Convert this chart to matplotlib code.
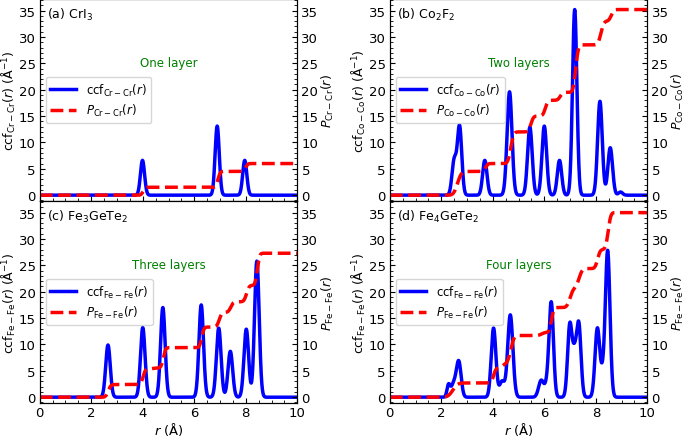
import math
import matplotlib
matplotlib.use('Agg')
import matplotlib.pyplot as plt
import numpy as np
from matplotlib.ticker import MultipleLocator

# ccf peaks: centre (A), height (1/A), width (A)
cr_pos = [3.99, 6.89, 7.96]
cr_hgt = [6.6, 13.1, 6.6]
cr_wid = [0.08, 0.08, 0.08]
# P(r) steps: centre (A), increment, width (A)
cr_step_pos = [4.02, 6.92, 7.99]
cr_step_inc = [1.5, 3.0, 1.5]
cr_step_wid = [0.07, 0.07, 0.07]

co_pos = [2.50, 2.71, 3.69, 4.65, 5.44, 6.00, 6.59, 7.18, 8.16, 8.56, 8.96]
co_hgt = [6.5, 13.0, 6.6, 19.6, 12.9, 13.1, 6.6, 35.2, 17.8, 9.0, 0.6]
co_wid = [0.085, 0.085, 0.085, 0.095, 0.09, 0.09, 0.085, 0.085, 0.09, 0.09, 0.08]
co_step_pos = [2.63, 3.72, 4.70, 5.48, 6.04, 6.62, 7.22, 8.20, 8.60]
co_step_inc = [4.5, 1.5, 6.0, 3.0, 3.0, 1.5, 9.0, 4.5, 2.2]
co_step_wid = [0.12, 0.07, 0.09, 0.08, 0.08, 0.08, 0.08, 0.09, 0.08]

fe3_pos = [2.65, 4.00, 4.78, 6.27, 6.95, 7.40, 8.02, 8.43]
fe3_hgt = [9.9, 13.2, 17.0, 17.5, 13.1, 8.7, 12.9, 25.8]
fe3_wid = [0.088, 0.088, 0.088, 0.088, 0.09, 0.09, 0.09, 0.09]
fe3_step_pos = [2.66, 4.01, 4.40, 4.80, 6.29, 6.97, 7.42, 8.03, 8.45]
fe3_step_inc = [2.4, 2.9, 0.3, 3.8, 3.9, 2.8, 2.0, 3.1, 6.1]
fe3_step_wid = [0.08, 0.07, 0.2, 0.07, 0.07, 0.08, 0.08, 0.08, 0.07]

fe4_pos = [2.28, 2.48, 2.68, 4.03, 4.36, 4.68, 5.88, 6.10, 6.27, 6.99, 7.17, 7.34, 8.06, 8.26, 8.46]
fe4_hgt = [2.2, 2.5, 6.6, 13.1, 3.0, 15.6, 3.2, 2.0, 17.9, 13.6, 7.0, 13.6, 13.0, 3.5, 27.7]
fe4_wid = [0.06, 0.10, 0.09, 0.09, 0.10, 0.10, 0.10, 0.08, 0.085, 0.085, 0.08, 0.085, 0.09, 0.08, 0.09]
fe4_step_pos = [2.45, 4.03, 4.38, 4.70, 5.90, 6.28, 7.00, 7.35, 8.07, 8.48]
fe4_step_inc = [2.7, 2.8, 0.9, 5.3, 0.6, 4.7, 3.7, 3.7, 3.6, 7.0]
fe4_step_wid = [0.15, 0.07, 0.10, 0.10, 0.10, 0.07, 0.10, 0.10, 0.08, 0.08]

tags = [r'(a) CrI$_3$', r'(b) Co$_2$F$_2$', r'(c) Fe$_3$GeTe$_2$', r'(d) Fe$_4$GeTe$_2$']
layers = ['One layer', 'Two layers', 'Three layers', 'Four layers']
pairs = ['Cr-Cr', 'Co-Co', 'Fe-Fe', 'Fe-Fe']

peaks = [(cr_pos, cr_hgt, cr_wid), (co_pos, co_hgt, co_wid),
         (fe3_pos, fe3_hgt, fe3_wid), (fe4_pos, fe4_hgt, fe4_wid)]
steps = [(cr_step_pos, cr_step_inc, cr_step_wid), (co_step_pos, co_step_inc, co_step_wid),
         (fe3_step_pos, fe3_step_inc, fe3_step_wid), (fe4_step_pos, fe4_step_inc, fe4_step_wid)]

r = np.linspace(0, 10, 2001)
erf = np.vectorize(math.erf)


def ccf_curve(pos, hgt, wid):
    y = np.zeros_like(r)
    for p, h, w in zip(pos, hgt, wid):
        y += h * np.exp(-0.5 * ((r - p) / w) ** 2)
    return y


def p_curve(pos, inc, wid):
    y = np.zeros_like(r)
    for p, d, w in zip(pos, inc, wid):
        y += d * 0.5 * (1 + erf((r - p) / (w * np.sqrt(2))))
    return y


plt.rcParams['font.size'] = 8.5
plt.rcParams['mathtext.fontset'] = 'dejavusans'

fig = plt.figure(figsize=(6.85, 4.39), dpi=100)
lefts = [0.058, 0.569]
bottoms = [0.5399, 0.0797]
w, h = 0.376, 0.4601

for i in range(4):
    row, col = divmod(i, 2)
    ax = fig.add_axes([lefts[col], bottoms[row], w, h])
    ax2 = ax.twinx()
    pr = pairs[i]
    l1, = ax.plot(r, ccf_curve(*peaks[i]), color='blue', lw=2.5,
                  label=r'ccf$_{\mathrm{%s}}(r)$' % pr)
    l2, = ax2.plot(r, p_curve(*steps[i]), color='red', lw=2.5, ls='--',
                   label=r'$P_{\mathrm{%s}}(r)$' % pr)
    for a in (ax, ax2):
        a.set_xlim(0, 10)
        a.set_ylim(-1.1, 37.2)
        a.yaxis.set_major_locator(MultipleLocator(5))
        a.yaxis.set_minor_locator(MultipleLocator(1))
    ax.xaxis.set_major_locator(MultipleLocator(2))
    ax.xaxis.set_minor_locator(MultipleLocator(0.5))
    ax.tick_params(which='both', direction='in', right=False, top=False, labelsize=9.5)
    ax.tick_params(axis='x', pad=2.5)
    ax.tick_params(axis='y', pad=3)
    ax2.tick_params(which='both', direction='in', labelsize=9.5, pad=3)
    ax.set_ylabel(r'ccf$_{\mathrm{%s}}(r)$ (Å$^{-1}$)' % pr, fontsize=9, labelpad=0.5)
    ax2.set_ylabel(r'$P_{\mathrm{%s}}(r)$' % pr, fontsize=9, labelpad=1)
    if row == 1:
        ax.set_xlabel(r'$r$ (Å)', fontsize=9.5, labelpad=0.5)
    else:
        ax.set_xticklabels([])
    ax.text(0.03, 0.965, tags[i], transform=ax.transAxes, va='top', ha='left',
            fontsize=9)
    ax.text(0.5, 0.685, layers[i], transform=ax.transAxes, ha='center',
            va='center', color='green')
    ax2.legend([l1, l2], [l1.get_label(), l2.get_label()], loc='center left',
               handlelength=2.2, labelspacing=0.4)

fig.savefig('out.png', dpi=100)
